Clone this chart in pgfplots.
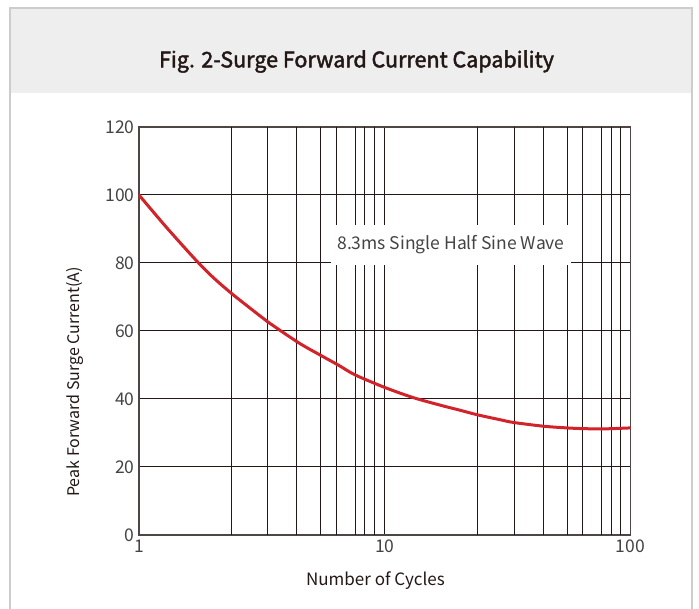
\documentclass[border=0pt]{standalone}
\usepackage{fontspec}
\setmainfont{Noto Sans CJK SC}
\newfontfamily\titlefont[FakeBold=2]{Noto Sans CJK SC}
\usepackage{pgfplots}
\pgfplotsset{compat=1.18}
\definecolor{cardgray}{HTML}{EEEEEE}
\definecolor{cardborder}{HTML}{CCCCCC}
\definecolor{gridblack}{HTML}{231815}
\definecolor{labgray}{HTML}{444444}
\definecolor{curvered}{HTML}{D2232A}
\begin{document}
\begin{tikzpicture}[x=1pt,y=1pt]
\useasboundingbox (0,0) rectangle (699,608);
\fill[white] (0,0) rectangle (699,608);
\fill[cardgray] (10,515) rectangle (692,600);
\draw[cardborder,line width=1.5pt] (10,-5) -- (10,600) -- (692,600) -- (692,-5);
\node[font=\fontsize{21.5}{24}\titlefont,text=gridblack] at (356.5,546.5) {Fig. 2-Surge Forward Current Capability};
\begin{axis}[
  at={(139pt,73pt)}, anchor=south west,
  scale only axis, width=491.5pt, height=408pt,
  xmode=log, xmin=1, xmax=100, ymin=0, ymax=120,
  xtick={1,10,100}, xticklabels={1,10,100},
  ytick={0,20,40,60,80,100,120},
  extra x ticks={2.38,3.34,4.38,5.49,6.34,7.59,8.29,9.1,23.8,33.6,44.2,55.2,63.5,76.4,83.4,91.2},
  extra x tick labels={},
  extra x tick style={grid=major, major grid style={gridblack,line width=1pt}},
  ymajorgrids, xmajorgrids,
  major grid style={gridblack,line width=1pt},
  tick style={draw=none},
  axis line style={draw=gridblack!80, line width=1.2pt},
  /pgf/number format/assume math mode=true,
  ticklabel style={font=\fontsize{17.5}{20}\selectfont, text=labgray},
  xticklabel style={yshift=-1pt},
  yticklabel style={xshift=-1pt},
  xlabel={Number of Cycles},
  ylabel={Peak Forward Surge Current(A)},
  xlabel style={font=\fontsize{17}{20}\selectfont, text=gridblack, at={(axis description cs:0.481,-0.111)}, anchor=center},
  ylabel style={font=\fontsize{16}{19}\selectfont, text=gridblack, at={(axis description cs:-0.130,0.375)}, anchor=center, rotate=0},
  clip=false,
]
\addplot[curvered, line width=3pt, smooth, tension=0.5] coordinates {
(1,100) (1.3,90.3) (1.717,80.6) (2,75.8) (2.375,71.1) (3,65.3) (3.34,62.7) (4.45,56.6) (5.5,52.8)
(6.5,49.9) (7.57,47.1) (10,43.4) (13.07,40.4) (17,38.1) (20,36.8) (24,35.3) (29.5,33.9) (33.4,33.1) (44.2,32.0)
(55,31.5) (63.4,31.3) (77,31.2) (100,31.5)
};
\node[fill=white, inner xsep=6pt, inner ysep=0pt, minimum height=40pt,
  font=\fontsize{17.5}{20}\selectfont, text=labgray] at (axis cs:18.6,85.3) {8.3ms Single Half Sine Wave};
\end{axis}
\end{tikzpicture}
\end{document}
